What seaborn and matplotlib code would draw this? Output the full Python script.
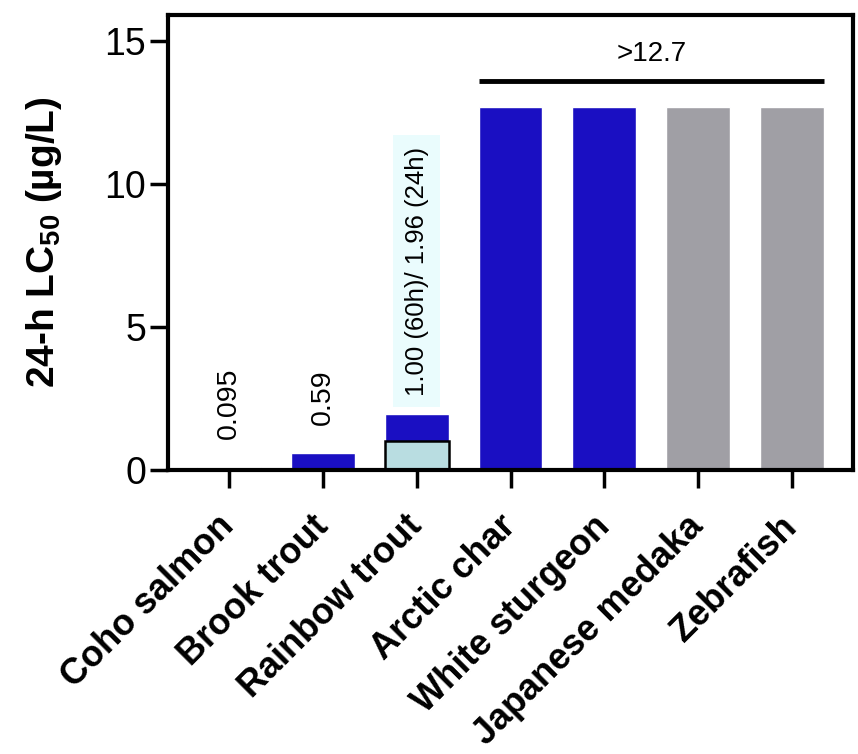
import numpy as np
import pandas as pd
import matplotlib
matplotlib.use('Agg')
import matplotlib.pyplot as plt
import seaborn as sns

# 数据
species = ['Coho salmon', 'Brook trout', 'Rainbow trout', 'Arctic char',
           'White sturgeon', 'Japanese medaka', 'Zebrafish']
lc50_24h = [0.095, 0.59, 1.96, 12.7, 12.7, 12.7, 12.7]
rainbow_60h = [1.00]
bar_labels = ['0.095', '0.59', '1.00 (60h)/ 1.96 (24h)']
greater_label = '>12.7'
yticks = [0, 5, 10, 15]

blue = '#1a0fc2'
grey = '#a09fa5'
colors = [blue, blue, blue, blue, blue, grey, grey]

sns.set_theme(style='white')
plt.rcParams['font.family'] = ['Liberation Sans', 'DejaVu Sans']
plt.rcParams['mathtext.fontset'] = 'custom'
plt.rcParams['mathtext.rm'] = 'Liberation Sans'
plt.rcParams['mathtext.bf'] = 'Liberation Sans:bold'
plt.rcParams['text.color'] = 'black'
plt.rcParams['axes.labelcolor'] = 'black'
plt.rcParams['xtick.color'] = 'black'
plt.rcParams['ytick.color'] = 'black'

fig = plt.figure(figsize=(8.58, 7.54), dpi=100)
ax = fig.add_axes([0.196, 0.377, 0.798, 0.603])

df = pd.DataFrame({'species': species, 'lc50': lc50_24h})
sns.barplot(data=df, x='species', y='lc50', hue='species', palette=colors,
            order=species, width=0.68, legend=False, saturation=1, ax=ax)

# 虹鳟 60h 叠加
df60 = pd.DataFrame({'species': ['Rainbow trout'], 'lc50': rainbow_60h})
sns.barplot(data=df60, x='species', y='lc50', order=species, color='#b9dde1',
            width=0.68, saturation=1, edgecolor='black', linewidth=1.8, ax=ax)

ax.set_xlim(-0.65, 6.65)
ax.set_ylim(0, 15.9)
ax.set_yticks(yticks)
ax.set_xlabel('')
ax.set_ylabel('24-h LC$_{\\mathbf{50}}$ (µg/L)', fontsize=28, fontweight='bold', labelpad=29)

for s in ax.spines.values():
    s.set_linewidth(3)
    s.set_color('black')
ax.tick_params(axis='both', direction='out', length=13, width=2.5,
               left=True, bottom=True)
ax.tick_params(axis='y', labelsize=27, pad=3)
ax.tick_params(axis='x', labelsize=26, pad=24)
for lbl in ax.get_xticklabels():
    lbl.set_rotation(45)
    lbl.set_ha('right')
    lbl.set_va('center')
    lbl.set_rotation_mode('anchor')
    lbl.set_fontweight('bold')

# 数值标注
for i, txt in enumerate(bar_labels):
    if i < 2:
        ax.annotate(txt, (i, lc50_24h[i]), xytext=(0, 20), textcoords='offset points',
                    rotation=90, ha='center', va='bottom', fontsize=20.5)
    else:
        ax.annotate(txt, (i, lc50_24h[i]), xytext=(0, 13), textcoords='offset points',
                    rotation=90, ha='center', va='bottom', fontsize=18.5, zorder=0,
                    bbox=dict(boxstyle='square,pad=0.45', fc='#eafcfd', ec='none'))

# >12.7 横线
bars = ax.patches[:len(species)]
x0 = bars[3].get_x()
x1 = bars[6].get_x() + bars[6].get_width()
ax.plot([x0, x1], [13.6, 13.6], color='black', lw=3.5, solid_capstyle='butt')
ax.text((x0 + x1) / 2, 14.1, greater_label, ha='center', va='bottom', fontsize=20)

fig.savefig('out.png', dpi=100)
